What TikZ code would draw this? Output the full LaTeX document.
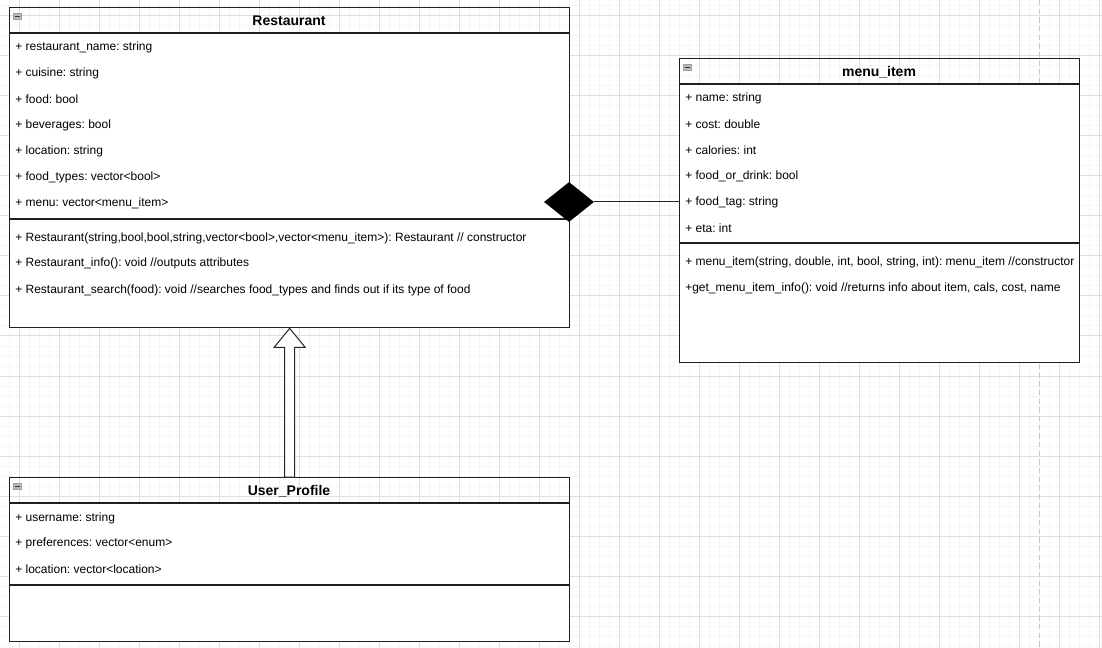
\documentclass[tikz,border=0pt]{standalone}
\usepackage{fontspec}
\setmainfont{Liberation Sans}
\frenchspacing
\usetikzlibrary{shapes.geometric,calc}

\tikzset{
  minorline/.style={gray!8, line width=0.75pt},
  majorline/.style={gray!25, line width=0.75pt},
  classbox/.style={draw=black!88, line width=1pt, inner sep=0pt, anchor=north west},
  divider/.style={black!88, line width=1pt},
  classname/.style={font=\fontsize{10.5}{12}\selectfont\bfseries, inner sep=0pt},
  member/.style={font=\fontsize{9}{11}\selectfont, anchor=west, inner sep=0pt},
  foldicon/.style={fill=gray!55, draw=gray!75, line width=0.5pt}
}

\begin{document}
\begin{tikzpicture}[x=0.75pt, y=-0.75pt]
    \useasboundingbox (0,0) rectangle (1102,648);
    % background grid
    \foreach \x in {9,19,...,1099} \draw[minorline] (\x,0) -- (\x,648);
    \foreach \y in {6,16,...,646} \draw[minorline] (0,\y) -- (1102,\y);
    \foreach \x in {19,59,...,1099} \draw[majorline] (\x,0) -- (\x,648);
    \foreach \y in {16,56,...,616} \draw[majorline] (0,\y) -- (1102,\y);
    \draw[gray!45, line width=0.75pt, dash pattern=on 4pt off 2.5pt] (1039,0) -- (1039,648);

    % white bodies, the headers stay open
    \fill[white] (9,33) rectangle (569,327);
    \fill[white] (679,84) rectangle (1079,362);
    \fill[white] (9,503) rectangle (569,641);

    % Restaurant
    \node[classbox, minimum width=420pt, minimum height=240pt] (restaurant) at (9,7) {};
    \draw[divider] (restaurant.north west |- 0,33) -- (restaurant.north east |- 0,33);
    \draw[divider] (restaurant.north west |- 0,219) -- (restaurant.north east |- 0,219);
    \draw[foldicon] (13,13) rectangle (21,19);
    \draw[black!80, line width=0.6pt] (14.5,16) -- (19.5,16);
    \node[classname] (restaurant_title) at (289,21) {Restaurant};
    \foreach \t [count=\i] in {{+ restaurant\_name: string}, {+ cuisine: string}, {+ food: bool},
        {+ beverages: bool}, {+ location: string}, {+ food\_types: vector<bool>}, {+ menu: vector<menu\_item>}}
        \node[member] (ra\i) at (15,21+26*\i) {\t};
    \node[member] (rm1) at (15,238) {+ Restaurant(string,bool,bool,string,vector<bool>,vector<menu\_item>): Restaurant // constructor};
    \node[member] (rm2) at (15,263) {+ Restaurant\_info(): void //outputs attributes};
    \node[member] (rm3) at (15,290) {+ Restaurant\_search(food): void //searches food\_types and finds out if its type of food};

    % menu_item
    \node[classbox, minimum width=300pt, minimum height=228pt] (menu_item) at (679,58) {};
    \draw[divider] (menu_item.north west |- 0,84) -- (menu_item.north east |- 0,84);
    \draw[divider] (menu_item.north west |- 0,243) -- (menu_item.north east |- 0,243);
    \draw[foldicon] (683,64) rectangle (691,70);
    \draw[black!80, line width=0.6pt] (684.5,67) -- (689.5,67);
    \node[classname] (menu_item_title) at (879,72) {menu\_item};
    \foreach \t [count=\i] in {{+ name: string}, {+ cost: double}, {+ calories: int},
        {+ food\_or\_drink: bool}, {+ food\_tag: string}, {+ eta: int}}
        \node[member] (ma\i) at (685,72+26*\i) {\t};
    \node[member] (mm1) at (685,262) {+ menu\_item(string, double, int, bool, string, int): menu\_item //constructor};
    \node[member] (mm2) at (685,288) {+get\_menu\_item\_info(): void //returns info about item, cals, cost, name};

    % User_Profile
    \node[classbox, minimum width=420pt, minimum height=123pt] (user_profile) at (9,477) {};
    \draw[divider] (user_profile.north west |- 0,503) -- (user_profile.north east |- 0,503);
    \draw[divider] (user_profile.north west |- 0,585) -- (user_profile.north east |- 0,585);
    \draw[foldicon] (13,483) rectangle (21,489);
    \draw[black!80, line width=0.6pt] (14.5,486) -- (19.5,486);
    \node[classname] (user_profile_title) at (289,491) {User\_Profile};
    \node[member] (ua1) at (15,518) {+ username: string};
    \node[member] (ua2) at (15,543) {+ preferences: vector<enum>};
    \node[member] (ua3) at (15,569) {+ location: vector<location>};

    % composition
    \node[diamond, fill=black, inner sep=0pt, minimum width=37.5pt, minimum height=30pt] (comp) at (569,202) {};
    \draw[black!85, line width=0.75pt] (comp.east) -- (comp.east -| menu_item.west);

    % inheritance
    \draw[black!85, line width=0.75pt, fill=white]
        ($(user_profile.north)+(-5,0)$) -- ($(restaurant.south)+(-5,19)$) -- ($(restaurant.south)+(-15.5,19)$)
        -- (restaurant.south) -- ($(restaurant.south)+(15.5,19)$) -- ($(restaurant.south)+(5,19)$)
        -- ($(user_profile.north)+(5,0)$) -- cycle;
\end{tikzpicture}
\end{document}
